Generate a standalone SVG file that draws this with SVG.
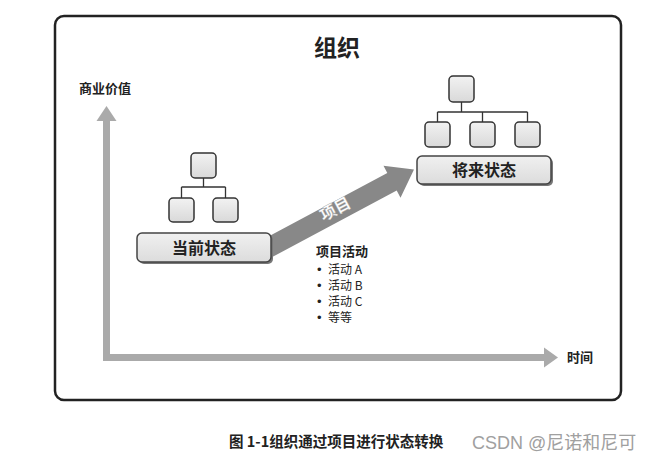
<svg xmlns="http://www.w3.org/2000/svg" width="659" height="468" viewBox="0 0 659 468">
<defs>
<linearGradient id="boxg" x1="0" y1="0" x2="0" y2="1">
<stop offset="0" stop-color="#f2f2f2"/>
<stop offset="1" stop-color="#d9d9d9"/>
</linearGradient>
<linearGradient id="barg" x1="0" y1="0" x2="0" y2="1">
<stop offset="0" stop-color="#f0f0f0"/>
<stop offset="1" stop-color="#dcdcdc"/>
</linearGradient>
</defs>
<style>
.frame{fill:#fff;stroke:#222;stroke-width:2.5}
.box{fill:url(#boxg);stroke:#333;stroke-width:1.5}
.bar{fill:url(#barg);stroke:#444;stroke-width:1.5}
.shadow{fill:#777}
.conn{fill:none;stroke:#333;stroke-width:1.3}
.axis{fill:#aaa}
.t{font-family:"Noto Sans CJK SC","Liberation Sans",sans-serif;fill:#222}
.b{font-weight:bold}
.dot{font-family:"Liberation Sans",sans-serif;font-size:13px;fill:#222}
</style>
<rect width="659" height="468" fill="#fff"/>
<rect class="frame" x="55" y="16" width="566" height="384" rx="9"/>
<text class="t b" x="337" y="56" font-size="23" text-anchor="middle">组织</text>
<g id="axes">
<rect class="axis" x="103" y="119" width="7" height="242"/>
<polygon class="axis" points="106.5,106 96.5,121 116.5,121"/>
<rect class="axis" x="103" y="354" width="443" height="7"/>
<polygon class="axis" points="558,357.5 544,347.5 544,367.5"/>
</g>
<text class="t b" x="79" y="93" font-size="13">商业价值</text>
<text class="t b" x="567" y="362" font-size="13">时间</text>
<g id="connectors">
<polygon fill="#888" points="263.3,239.2 387.3,173 383.5,165.8 414,169.5 400.5,197.7 396.7,190.6 272.7,256.8"/>
<text class="t b" x="0" y="0" font-size="16" stroke="#aaa" stroke-width="0.3" text-anchor="middle" transform="translate(338,214) rotate(-28)" style="fill:#fff">项目</text>
<path class="conn" d="M203.5,178 V187 M181.5,187 H225.5 M181.5,187 V198 M225.5,187 V198"/>
<path class="conn" d="M461.5,102 V112 M437.5,112 H527.5 M437.5,112 V122 M482.5,112 V122 M527.5,112 V122"/>
</g>
<g id="current-top"><rect class="box" x="191" y="153" width="25" height="25" rx="4"/></g>
<g id="current-left"><rect class="box" x="169" y="198" width="25" height="24" rx="4"/></g>
<g id="current-right"><rect class="box" x="213" y="198" width="25" height="24" rx="4"/></g>
<g id="current-state">
<rect class="shadow" x="139" y="235" width="134" height="29" rx="5"/>
<rect class="bar" x="137" y="233" width="134" height="29" rx="5"/>
<text class="t b" x="204" y="254" font-size="16" text-anchor="middle">当前状态</text>
</g>
<g id="future-top"><rect class="box" x="449" y="76" width="25" height="26" rx="4"/></g>
<g id="future-left"><rect class="box" x="425" y="122" width="25" height="25" rx="4"/></g>
<g id="future-mid"><rect class="box" x="470" y="122" width="25" height="25" rx="4"/></g>
<g id="future-right"><rect class="box" x="515" y="122" width="25" height="25" rx="4"/></g>
<g id="future-state">
<rect class="shadow" x="419" y="158" width="134" height="28" rx="5"/>
<rect class="bar" x="417" y="156" width="134" height="28" rx="5"/>
<text class="t b" x="484" y="176" font-size="16" text-anchor="middle">将来状态</text>
</g>
<g id="activities">
<text class="t b" x="316" y="256" font-size="13">项目活动</text>
<text class="dot" x="317" y="274">•</text><text class="t" x="328" y="274" font-size="12">活动 A</text>
<text class="dot" x="317" y="290">•</text><text class="t" x="328" y="290" font-size="12">活动 B</text>
<text class="dot" x="317" y="306">•</text><text class="t" x="328" y="306" font-size="12">活动 C</text>
<text class="dot" x="317" y="322">•</text><text class="t" x="328" y="322" font-size="12">等等</text>
</g>
<text class="t b" x="229" y="447" font-size="14.5">图 1-1组织通过项目进行状态转换</text>
<text x="472" y="449" font-size="18" fill="#a0a0a0" font-family="'Liberation Sans','Noto Sans CJK SC',sans-serif">CSDN @尼诺和尼可</text>
</svg>
